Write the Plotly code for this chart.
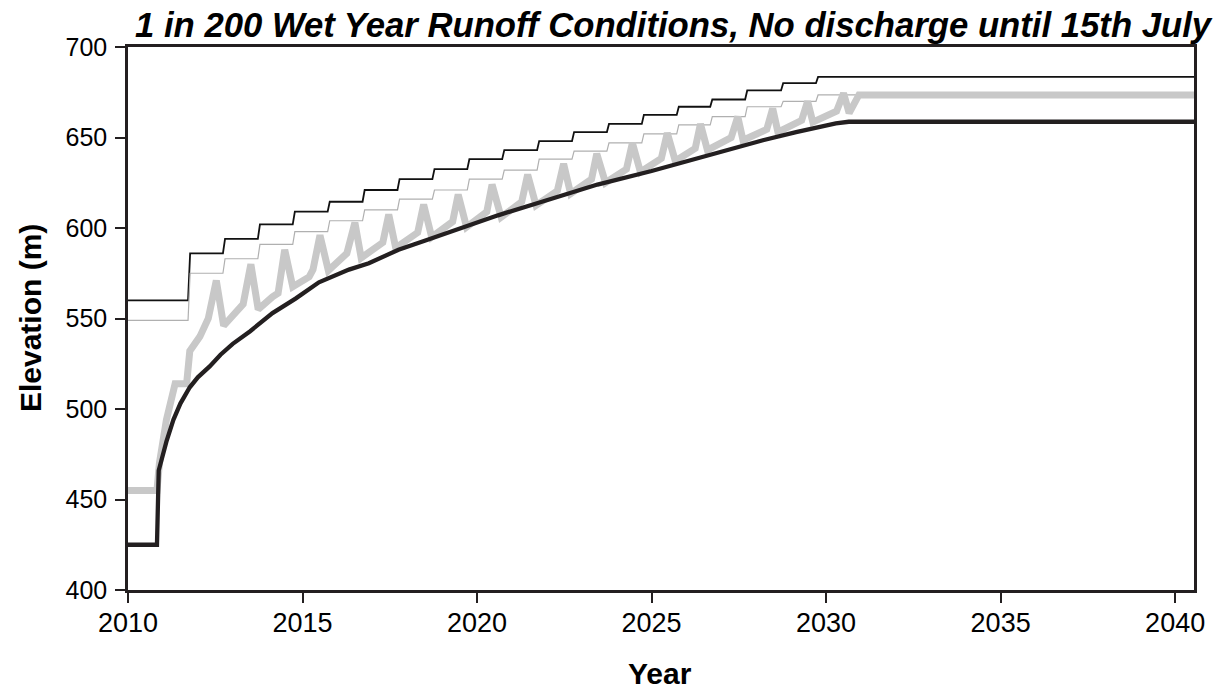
import plotly.graph_objects as go

# ---------------- data ----------------
x_end = 2040.6

# upper thin black stepped line (annual raises)
step_years = [2011.72, 2012.72, 2013.72, 2014.72, 2015.72, 2016.72, 2017.72, 2018.72,
              2019.72, 2020.72, 2021.72, 2022.72, 2023.72, 2024.72, 2025.72, 2026.68,
              2027.68, 2028.71, 2029.71]
crest_levels = [560, 586, 594, 602, 609, 614.5, 621, 627, 632.5, 638, 643, 648, 653,
                657.5, 662.5, 667, 671, 676, 680, 683.5]

# thin grey stepped line
thin_grey_levels = [549, 575, 583, 591, 598, 604, 610, 616, 621, 627, 632, 638, 642.5,
                    647, 652, 657, 661.5, 667, 670, 673.5]

# thick grey line (seasonal spikes)
grey_years = [2010.0, 2010.83, 2010.9, 2011.1, 2011.35, 2011.68, 2011.77, 2012.06, 2012.3,
              2012.53, 2012.74, 2013.1, 2013.3, 2013.52, 2013.73, 2014.14, 2014.3, 2014.49,
              2014.72, 2015.19, 2015.3, 2015.5, 2015.74, 2016.27, 2016.5, 2016.68, 2017.3,
              2017.47, 2017.67, 2018.3, 2018.47, 2018.7, 2019.3, 2019.46, 2019.7, 2020.28,
              2020.43, 2020.69, 2021.28, 2021.45, 2021.69, 2022.3, 2022.48, 2022.68, 2023.28,
              2023.43, 2023.68, 2024.28, 2024.45, 2024.68, 2025.28, 2025.45, 2025.68, 2026.25,
              2026.4, 2026.6, 2027.28, 2027.47, 2027.62, 2028.3, 2028.47, 2028.62, 2029.3,
              2029.47, 2029.62, 2030.3, 2030.5, 2030.66, 2030.94, 2040.6]
grey_levels = [455, 455, 470, 494, 514, 514, 532, 540, 550,
               571, 546, 554.5, 558, 580, 555, 562, 564, 588,
               567.5, 573, 577, 596, 576.5, 586, 603, 583.5, 592,
               607.5, 589, 597.5, 613, 595, 603.5, 618.5, 600.5, 609,
               624, 606, 614.5, 629.5, 612.5, 620.5, 635.5, 619, 627,
               641, 625, 632.5, 647, 631, 638.5, 652.5, 637, 644,
               657.5, 643, 650, 661.5, 648.5, 654.5, 666, 653, 659.5,
               670, 658.5, 664.5, 674.5, 663.5, 673.5, 673.5]

# thick black line
black_years = [2010.0, 2010.83, 2010.88, 2011.0, 2011.1, 2011.3, 2011.5, 2011.77, 2012.0,
               2012.34, 2012.65, 2013.0, 2013.5, 2014.14, 2014.8, 2015.47, 2016.33, 2016.9,
               2017.75, 2018.5, 2019.17, 2020.6, 2022.02, 2023.45, 2025.0, 2026.3, 2027.24,
               2028.19, 2029.14, 2030.28, 2030.65, 2040.6]
black_levels = [425, 425, 466, 475, 482, 494, 503, 512, 517.5,
                523.5, 530, 536, 543, 553, 561, 570, 577, 580.5,
                588, 593, 597.5, 607, 615.5, 624, 631.5, 638.5, 643,
                648.5, 653, 657.8, 658.7, 658.7]

x_ticks = [2010, 2015, 2020, 2025, 2030, 2035, 2040]
y_ticks = [400, 450, 500, 550, 600, 650, 700]

title_text = "1 in 200 Wet Year Runoff Conditions, No discharge until 15th July"
x_title = "Year"
y_title = "Elevation (m)"


def stepped(levels, steps, ramp=0.06):
    xs, ys = [2010.0], [levels[0]]
    for i, s in enumerate(steps):
        xs += [s, s + ramp]
        ys += [levels[i], levels[i + 1]]
    xs.append(x_end)
    ys.append(levels[-1])
    return xs, ys


FONT = "Liberation Sans, Arial, sans-serif"
INK = "#231f20"

fig = go.Figure()
cx, cy = stepped(crest_levels, step_years)
fig.add_trace(go.Scatter(x=cx, y=cy, mode="lines", line=dict(color="#111111", width=1.8),
                         hoverinfo="skip"))
tx, ty = stepped(thin_grey_levels, step_years)
fig.add_trace(go.Scatter(x=tx, y=ty, mode="lines", line=dict(color="#b0b0b0", width=1.2),
                         hoverinfo="skip"))
fig.add_trace(go.Scatter(x=grey_years, y=grey_levels, mode="lines",
                         line=dict(color="#c8c8c8", width=7), hoverinfo="skip"))
fig.add_trace(go.Scatter(x=black_years, y=black_levels, mode="lines",
                         line=dict(color=INK, width=4.3), hoverinfo="skip"))

fig.update_layout(
    width=1217, height=690,
    margin=dict(l=128, r=17, t=47, b=100),
    paper_bgcolor="white", plot_bgcolor="white",
    showlegend=False,
    font=dict(family=FONT, color="black", size=24),
)
fig.update_xaxes(
    range=[2010, 2040.54], tickvals=x_ticks, ticktext=[str(v) for v in x_ticks],
    showgrid=False, zeroline=False, showline=True, linewidth=2.5, linecolor=INK, mirror=True,
    ticks="outside", ticklen=10, tickwidth=1.5, tickcolor=INK,
    tickfont=dict(family=FONT, size=27, color="black"), ticklabelstandoff=-3,
)
fig.update_yaxes(
    range=[400, 700], tickvals=y_ticks, ticktext=[str(v) for v in y_ticks],
    showgrid=False, zeroline=False, showline=True, linewidth=2.5, linecolor=INK, mirror=True,
    ticks="outside", ticklen=10, tickwidth=1.5, tickcolor=INK,
    tickfont=dict(family=FONT, size=25, color="black"), ticklabelstandoff=3,
)

fig.add_annotation(text="<b><i>" + title_text + "</i></b>", xref="paper", yref="paper",
                   x=0.512, y=1.0405, xanchor="center", yanchor="middle", showarrow=False,
                   font=dict(family=FONT, size=34.7, color="black"))
fig.add_annotation(text="<b>" + x_title + "</b>", xref="paper", yref="paper",
                   x=0.4986, y=-0.153, xanchor="center", yanchor="middle", showarrow=False,
                   font=dict(family=FONT, size=30, color="black"))
fig.add_annotation(text="<b>" + y_title + "</b>", xref="paper", yref="paper",
                   x=-0.0914, y=0.5, xanchor="center", yanchor="middle", textangle=-90,
                   showarrow=False, font=dict(family=FONT, size=30, color="black"))

fig.write_html("out.html")
